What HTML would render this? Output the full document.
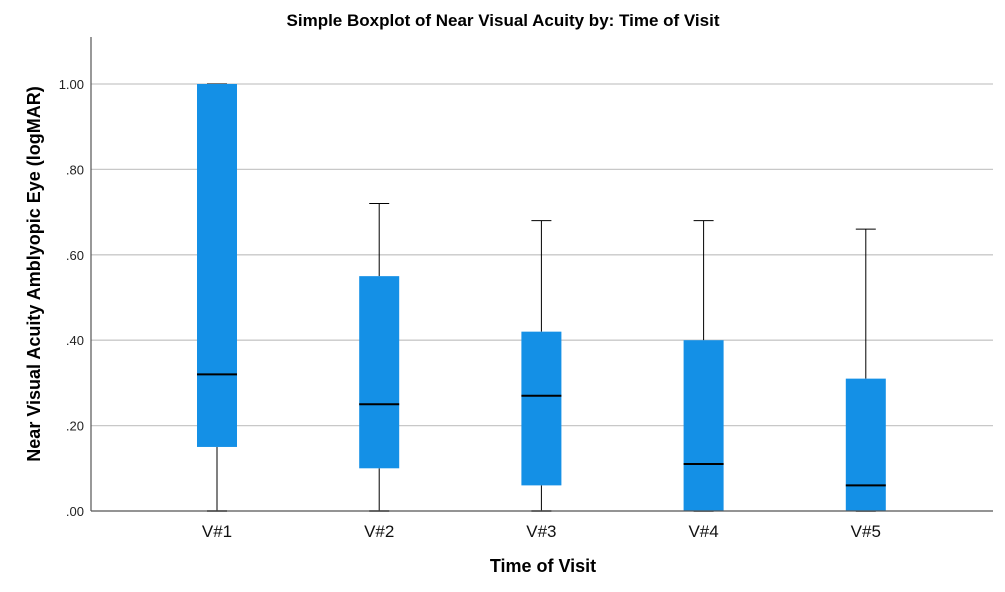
<!DOCTYPE html>
<html><head><meta charset="utf-8">
<style>
body{margin:0;background:#fff;}
svg{display:block;font-family:"Liberation Sans","DejaVu Sans",sans-serif;}
</style></head>
<body>
<svg id="chart" width="1005" height="592" viewBox="0 0 1005 592">
  <text x="503" y="26" text-anchor="middle" font-size="17" font-weight="bold" fill="#000">Simple Boxplot of Near Visual Acuity by: Time of Visit</text>
  <g id="grid"></g>
  <g id="yticks"></g>
  <g id="boxes"></g>
  <g id="xticks"></g>
  <line x1="91" y1="37" x2="91" y2="511" stroke="#555" stroke-width="1.2"/>
  <line x1="91" y1="511" x2="993" y2="511" stroke="#555" stroke-width="1.2"/>
  <text x="543" y="572" text-anchor="middle" font-size="18" font-weight="bold" fill="#000">Time of Visit</text>
  <text transform="translate(40,274) rotate(-90)" text-anchor="middle" font-size="18" font-weight="bold" fill="#000">Near Visual Acuity Amblyopic Eye (logMAR)</text>
</svg>
<script>
const categories = ["V#1","V#2","V#3","V#4","V#5"];
const mins = [0,0,0,0,0];
const q1s = [0.15,0.10,0.06,0,0];
const medians = [0.32,0.25,0.27,0.11,0.06];
const q3s = [1.00,0.55,0.42,0.40,0.31];
const maxs = [1.00,0.72,0.68,0.68,0.66];
const yTicks = [0,0.2,0.4,0.6,0.8,1.0];
const yTickLabels = [".00",".20",".40",".60",".80","1.00"];

const NS="http://www.w3.org/2000/svg";
const y0=511, yScale=427, xStart=217, xStep=162.2;
const y=v=>y0-v*yScale;
const x=i=>xStart+i*xStep;
function mk(tag,attrs,parent){const e=document.createElementNS(NS,tag);for(const k in attrs)e.setAttribute(k,attrs[k]);parent.appendChild(e);return e;}
const grid=document.getElementById('grid'),yt=document.getElementById('yticks'),bx=document.getElementById('boxes'),xt=document.getElementById('xticks');
yTicks.forEach((v,i)=>{
  if(v>0){const l=mk('line',{x1:91,x2:993,y1:y(v),y2:y(v),stroke:'#c8c8c8','stroke-width':1.3},grid);
  
  }
  const t=mk('text',{x:84,y:y(v)+5,'text-anchor':'end','font-size':13,fill:'#222'},yt);
  t.textContent=yTickLabels[i];
  
  
});
categories.forEach((c,i)=>{
  const cx=x(i),w=40,cap=20;
  const g=mk('g',{},bx);
  
  
  mk('line',{x1:cx,x2:cx,y1:y(maxs[i]),y2:y(q3s[i]),stroke:'#000','stroke-width':1},g);
  mk('line',{x1:cx,x2:cx,y1:y(q1s[i]),y2:y(mins[i]),stroke:'#000','stroke-width':1},g);
  mk('line',{x1:cx-cap/2,x2:cx+cap/2,y1:y(maxs[i]),y2:y(maxs[i]),stroke:'#000','stroke-width':1},g);
  mk('line',{x1:cx-cap/2,x2:cx+cap/2,y1:y(mins[i]),y2:y(mins[i]),stroke:'#000','stroke-width':1.5},g);
  mk('rect',{x:cx-w/2,y:y(q3s[i]),width:w,height:y(q1s[i])-y(q3s[i]),fill:'#1490e6'},g);
  mk('line',{x1:cx-w/2,x2:cx+w/2,y1:y(medians[i]),y2:y(medians[i]),stroke:'#000','stroke-width':2},g);
  const t=mk('text',{x:cx,y:537,'text-anchor':'middle','font-size':17,fill:'#111'},xt);
  t.textContent=c;
  
  
});
</script>
</body></html>
